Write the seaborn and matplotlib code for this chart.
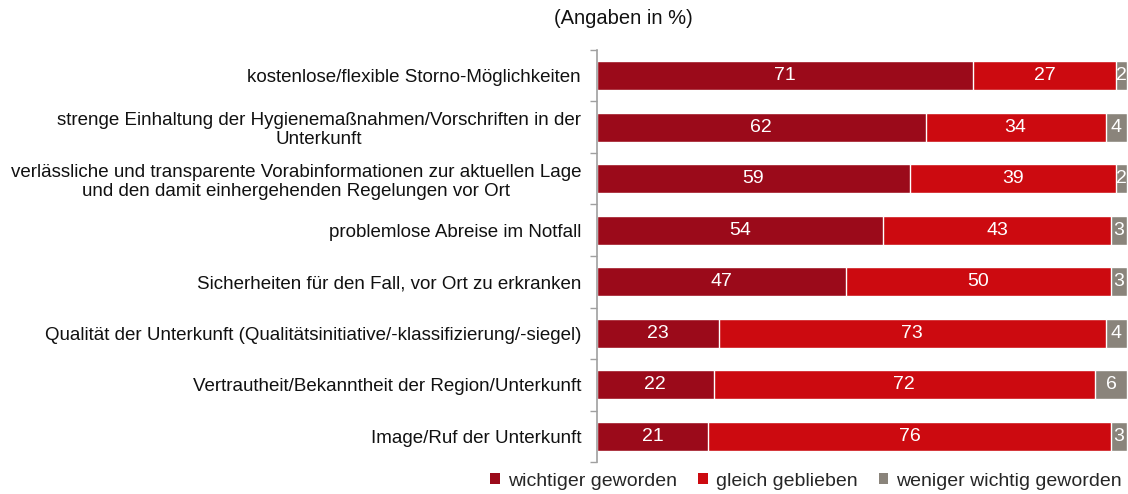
import matplotlib
matplotlib.use("Agg")
import matplotlib.pyplot as plt
import seaborn as sns
import numpy as np
import pandas as pd
from matplotlib.patches import Patch

sns.set_theme(style="white")
plt.rcParams['font.family'] = ['Liberation Sans', 'DejaVu Sans']

categories = [
    "kostenlose/flexible Storno-Möglichkeiten",
    "strenge Einhaltung der Hygienemaßnahmen/Vorschriften in der\nUnterkunft",
    "verlässliche und transparente Vorabinformationen zur aktuellen Lage\nund den damit einhergehenden Regelungen vor Ort",
    "problemlose Abreise im Notfall",
    "Sicherheiten für den Fall, vor Ort zu erkranken",
    "Qualität der Unterkunft (Qualitätsinitiative/-klassifizierung/-siegel)",
    "Vertrautheit/Bekanntheit der Region/Unterkunft",
    "Image/Ruf der Unterkunft",
]
wichtiger = [71, 62, 59, 54, 47, 23, 22, 21]
gleich = [27, 34, 39, 43, 50, 73, 72, 76]
weniger = [2, 4, 2, 3, 3, 4, 6, 3]
series_names = ["wichtiger geworden", "gleich geblieben", "weniger wichtig geworden"]
colors = ["#9B0A1A", "#CC0A10", "#8A847B"]

w = np.array(wichtiger); g = np.array(gleich); l = np.array(weniger)
cum1 = w
cum2 = w + g
cum3 = w + g + l
df = pd.DataFrame({"cat": categories, "c1": cum1, "c2": cum2, "c3": cum3})

fig = plt.figure(figsize=(11.28, 4.94), dpi=100)
ax = fig.add_axes([597/1128, 32/494, 1 - 597/1128 - 0.001, 412/494])

bw = 0.56
for col, c in zip(["c3", "c2", "c1"], colors[::-1]):
    sns.barplot(data=df, x=col, y="cat", orient="h", color=c, width=bw,
                edgecolor="white", linewidth=1.0, ax=ax, saturation=1)

ax.set_xlim(0, 100)
ax.set_ylim(len(categories) - 0.5, -0.5)
ax.set_xlabel("")
ax.set_ylabel("")
ax.set_xticks([])

# value labels
for i in range(len(categories)):
    starts = [0, cum1[i], cum2[i]]
    vals = [w[i], g[i], l[i]]
    for s, v in zip(starts, vals):
        ax.text(s + v / 2, i, f"{v}", ha="center", va="center",
                color="white", fontsize=14)

ax.set_yticks(range(len(categories)))
ax.set_yticklabels(categories, fontsize=13.5, color="#111111", multialignment="center",
                   linespacing=1.15)
ax.tick_params(axis="y", which="major", length=0, pad=11.5)
ax.set_yticks(np.arange(-0.5, len(categories), 1.0), minor=True)
ax.tick_params(axis="y", which="minor", length=5, width=1, color="#A0A0A0", direction="out", left=True)

for s in ["top", "right", "bottom"]:
    ax.spines[s].set_visible(False)
ax.spines["left"].set_color("#A0A0A0")
ax.spines["left"].set_linewidth(1.2)

fig.text(623/1128, 1 - 19/494, "(Angaben in %)", ha="center", va="center",
         fontsize=14.5, color="#111111")

handles = [Patch(facecolor=c, edgecolor="none") for c in colors]
fig.legend(handles, series_names, loc="center", ncol=3,
           bbox_to_anchor=(806/1128, 1 - 481/494), frameon=False,
           fontsize=14, handlelength=0.5, handleheight=0.5, handletextpad=0.4,
           columnspacing=1.1)

fig.savefig("out.png", dpi=100)
